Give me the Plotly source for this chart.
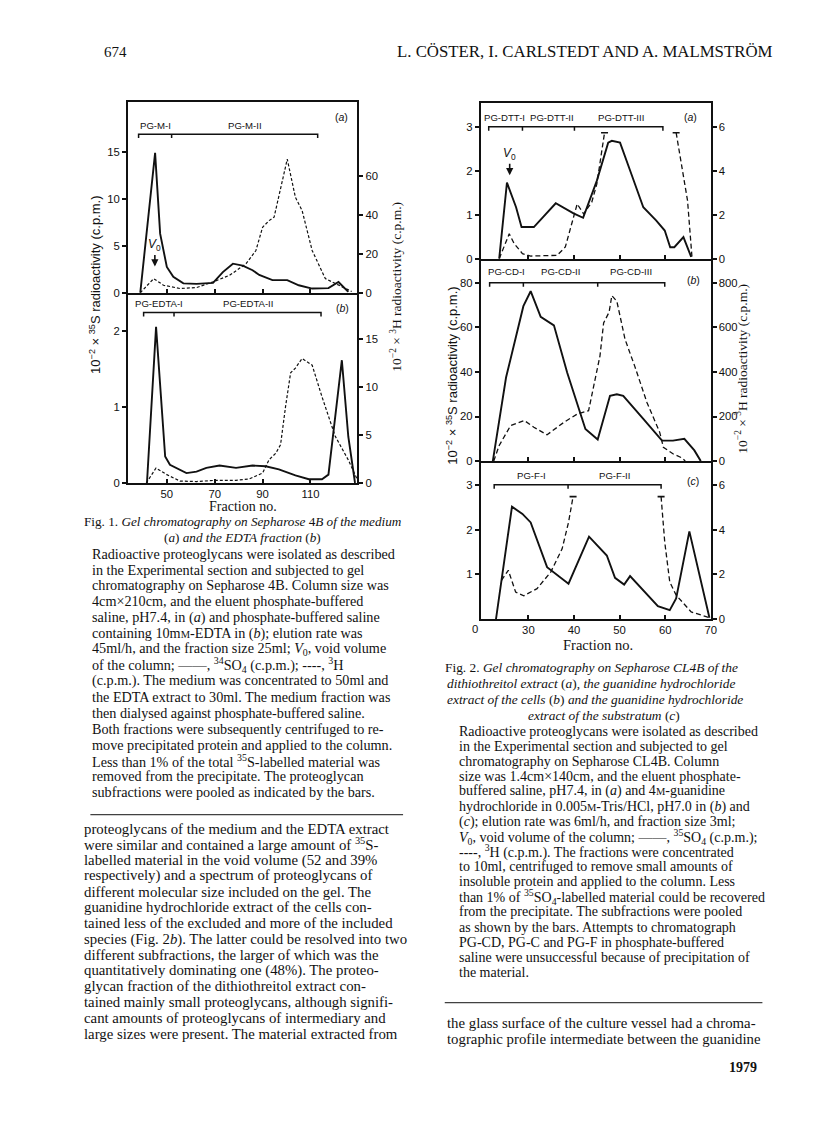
import plotly.graph_objects as go

# ---------------- data ----------------
# Fig. 1(a)  medium
F1A_FRAC_35S = [38.9, 45.1, 47.2, 50.0, 52.7, 56.9, 62.4, 69.3, 73.4, 77.6, 81.7, 85.8, 88.6, 94.1, 100.3, 105.1, 110.7, 117.5, 121.7, 125.8]
F1A_35S = [0, 14.9, 6.3, 2.75, 1.7, 1.0, 0.95, 1.05, 2.2, 3.1, 2.9, 2.4, 1.9, 1.35, 1.35, 0.8, 0.45, 0.5, 1.15, 0.1]
F1A_FRAC_3H = [38.9, 44.5, 48.6, 55.5, 62.4, 69.3, 76.2, 83.1, 87.2, 90.0, 92.7, 94.8, 100.3, 103.7, 106.5, 110.7, 116.2, 123.1, 127.2]
F1A_3H = [0, 7.3, 3.9, 2.2, 2.7, 5.6, 9.0, 15, 21.8, 33.8, 37.2, 39, 68.9, 49.2, 42.4, 21.8, 7.3, 3.1, 0.7]
# Fig. 1(b)  EDTA fraction
F1B_FRAC_35S = [41.7, 45.5, 49.3, 51.3, 58.2, 62.4, 66.5, 68.6, 72.0, 78.9, 85.8, 91.3, 96.8, 103.7, 109.3, 114.8, 117.5, 123.1, 125.8, 128.6]
F1B_35S = [0, 2.06, 0.35, 0.24, 0.13, 0.15, 0.2, 0.21, 0.23, 0.2, 0.23, 0.22, 0.18, 0.1, 0.05, 0.05, 0.11, 1.62, 0.61, 0]
F1B_FRAC_3H = [41.4, 45.5, 50, 55.5, 62.4, 70.6, 78.9, 84.4, 90, 92.7, 95.5, 97.5, 99.6, 101.7, 103.7, 106.5, 110.7, 114.8, 120.3, 125.8, 129.3]
F1B_3H = [0, 1.56, 0.87, 0.2, 0.15, 0.28, 0.28, 0.42, 1.04, 2.43, 3.1, 4.0, 8.0, 11.5, 12.0, 13.0, 12.3, 9.0, 4.9, 2.4, 0.5]
# Fig. 2(a)  dithiothreitol extract
F2A_FRAC_35S = [23.6, 25.3, 27.3, 28.5, 31.2, 36.0, 39.9, 42.0, 45.0, 47.5, 48.3, 50.1, 52.6, 55.2, 58.0, 59.9, 61.1, 62.0, 64.0, 65.7]
F2A_35S = [0, 1.73, 1.17, 0.72, 0.72, 1.26, 1.03, 0.93, 1.77, 2.64, 2.68, 2.64, 1.92, 1.17, 0.87, 0.64, 0.26, 0.26, 0.49, 0.04]
F2A_FRAC_3H = [23.6, 25.8, 26.9, 28.7, 30.5, 33.4, 36.3, 38.1, 39.6, 40.7, 42.1, 43.9, 45.0, 46.7, None, 62.4, 64.9, 65.9]
F2A_3H = [0, 1.13, 0.68, 0.23, 0.12, 0.12, 0.15, 0.53, 1.73, 2.49, 2.04, 2.57, 3.39, 5.73, None, 5.73, 2.64, 0]
# Fig. 2(b)  guanidine extract of cells
F2B_FRAC_35S = [22.2, 25.1, 28.9, 30.5, 32.7, 35.6, 38.5, 42.5, 45.2, 47.9, 49.4, 50.8, 55.2, 59.3, 61.7, 64.2, 66.4, 67.8]
F2B_35S = [0, 37.5, 69.5, 76.2, 64.7, 60.9, 39.7, 14.4, 9.7, 29.3, 30, 29.3, 18.9, 9.2, 9.2, 10, 4.8, 0]
F2B_FRAC_3H = [22.4, 23.6, 26.1, 29.1, 31.2, 34.1, 37.8, 40.7, 43.2, 45.7, 46.5, 47.7, 48.3, 49.4, 51.2, 53.3, 56.0, 58.8, 59.6, 61.7, 63.8, 64.4]
F2B_3H = [0, 70, 159, 182, 152, 118, 174, 211, 226, 472, 620, 668, 742, 717, 546, 427, 263, 129, 62, 33, 13, 0]
# Fig. 2(c)  guanidine extract of substratum
F2C_FRAC_35S = [22.9, 26.4, 28.7, 30.5, 34.1, 38.8, 43.3, 47.2, 49.0, 51.0, 52.3, 54.1, 58.4, 61.0, 62.4, 65.3, 69.7]
F2C_35S = [0, 2.51, 2.35, 2.16, 1.16, 0.79, 1.84, 1.42, 0.92, 0.77, 0.96, 0.76, 0.29, 0.2, 0.46, 1.96, 0.03]
F2C_FRAC_3H = [24.1, 25.6, 27.2, 29.0, 31.9, 34.9, 37.4, 38.8, 39.8, None, 59.1, 59.9, 61.0, 62.4, 65.7, 69.7]
F2C_3H = [1.73, 2.18, 1.21, 1.04, 1.36, 2.1, 3.14, 4.32, 5.47, None, 5.47, 3.44, 1.66, 1.07, 0.32, 0.06]

# pooled subfractions (fraction boundaries), bar level and names
F1A_POOL = [38.2, 52, 113];            F1A_POOL_LEVEL = 16.9; F1A_POOL_NAMES = ["PG-M-I", "PG-M-II"]
F1B_POOL = [40.3, 53, 114.4];          F1B_POOL_LEVEL = 2.25; F1B_POOL_NAMES = ["PG-EDTA-I", "PG-EDTA-II"]
F2A_POOL = [21.3, 28.7, 40.1, 59.5];   F2A_POOL_LEVEL = 3.0;  F2A_POOL_NAMES = ["PG-DTT-I", "PG-DTT-II", "PG-DTT-III"]
F2B_POOL = [21.5, 28.9, 45.2, 59.9];   F2B_POOL_LEVEL = 80;   F2B_POOL_NAMES = ["PG-CD-I", "PG-CD-II", "PG-CD-III"]
F2C_POOL = [22.5, 38.7, 59.1];         F2C_POOL_LEVEL = 3.0;  F2C_POOL_NAMES = ["PG-F-I", "PG-F-II"]

# void volume markers (fraction, left-axis value at arrow tip)
F1A_V0 = (45.0, 2.8)
F2A_V0 = (25.9, 1.9)

# tick labels
F1_XTICKS = [50, 70, 90, 110, 130]
F1A_LTICKS = [0, 5, 10, 15]; F1A_RTICKS = [0, 20, 40, 60]
F1B_LTICKS = [0, 1, 2];      F1B_RTICKS = [0, 5, 10, 15]
F2_XTICKS = [30, 40, 50, 60, 70]
F2A_LTICKS = [0, 1, 2, 3];   F2A_RTICKS = [0, 2, 4, 6]
F2B_LTICKS = [0, 20, 40, 60, 80]; F2B_RTICKS = [0, 200, 400, 600, 800]
F2C_LTICKS = [1, 2, 3];      F2C_RTICKS = [0, 2, 4, 6]

# page text
HEADER = "L. CÖSTER, I. CARLSTEDT AND A. MALMSTRÖM"
PAGE_NO = "674"
PAGE_FOOT = "1979"
SMALLM = "<span style='font-size:10.5px'>M</span>"
FIG1_HEAD = ["Fig. 1. <i>Gel chromatography on Sepharose</i> 4<i>B of the medium</i>",
             "(<i>a</i>) <i>and the EDTA fraction</i> (<i>b</i>)"]
FIG1_CAP = [
    "Radioactive proteoglycans were isolated as described",
    "in the Experimental section and subjected to gel",
    "chromatography on Sepharose 4B. Column size was",
    "4cm×210cm, and the eluent phosphate-buffered",
    "saline, pH7.4, in (<i>a</i>) and phosphate-buffered saline",
    "containing 10m" + SMALLM + "-EDTA in (<i>b</i>); elution rate was",
    "45ml/h, and the fraction size 25ml; <i>V</i><sub>0</sub>, void volume",
    "of the column; ——, <sup>34</sup>SO<sub>4</sub> (c.p.m.); ----, <sup>3</sup>H",
    "(c.p.m.). The medium was concentrated to 50ml and",
    "the EDTA extract to 30ml. The medium fraction was",
    "then dialysed against phosphate-buffered saline.",
    "Both fractions were subsequently centrifuged to re-",
    "move precipitated protein and applied to the column.",
    "Less than 1% of the total <sup>35</sup>S-labelled material was",
    "removed from the precipitate. The proteoglycan",
    "subfractions were pooled as indicated by the bars.",
]
LEFT_BODY = [
    "proteoglycans of the medium and the EDTA extract",
    "were similar and contained a large amount of <sup>35</sup>S-",
    "labelled material in the void volume (52 and 39%",
    "respectively) and a spectrum of proteoglycans of",
    "different molecular size included on the gel. The",
    "guanidine hydrochloride extract of the cells con-",
    "tained less of the excluded and more of the included",
    "species (Fig. 2<i>b</i>). The latter could be resolved into two",
    "different subfractions, the larger of which was the",
    "quantitatively dominating one (48%). The proteo-",
    "glycan fraction of the dithiothreitol extract con-",
    "tained mainly small proteoglycans, although signifi-",
    "cant amounts of proteoglycans of intermediary and",
    "large sizes were present. The material extracted from",
]
FIG2_HEAD = [
    "Fig. 2. <i>Gel chromatography on Sepharose CL4B of the</i>",
    "<i>dithiothreitol extract</i> (<i>a</i>), <i>the guanidine hydrochloride</i>",
    "<i>extract of the cells</i> (<i>b</i>) <i>and the guanidine hydrochloride</i>",
    "<i>extract of the substratum</i> (<i>c</i>)",
]
FIG2_CAP = [
    "Radioactive proteoglycans were isolated as described",
    "in the Experimental section and subjected to gel",
    "chromatography on Sepharose CL4B. Column",
    "size was 1.4cm×140cm, and the eluent phosphate-",
    "buffered saline, pH7.4, in (<i>a</i>) and 4" + SMALLM + "-guanidine",
    "hydrochloride in 0.005" + SMALLM + "-Tris/HCl, pH7.0 in (<i>b</i>) and",
    "(<i>c</i>); elution rate was 6ml/h, and fraction size 3ml;",
    "<i>V</i><sub>0</sub>, void volume of the column; ——, <sup>35</sup>SO<sub>4</sub> (c.p.m.);",
    "----, <sup>3</sup>H (c.p.m.). The fractions were concentrated",
    "to 10ml, centrifuged to remove small amounts of",
    "insoluble protein and applied to the column. Less",
    "than 1% of <sup>35</sup>SO<sub>4</sub>-labelled material could be recovered",
    "from the precipitate. The subfractions were pooled",
    "as shown by the bars. Attempts to chromatograph",
    "PG-CD, PG-C and PG-F in phosphate-buffered",
    "saline were unsuccessful because of precipitation of",
    "the material.",
]
RIGHT_BODY = [
    "the glass surface of the culture vessel had a chroma-",
    "tographic profile intermediate between the guanidine",
]
Y_TITLE_35S = "10<sup>−2</sup> × <sup>35</sup>S radioactivity (c.p.m.)"
Y_TITLE_3H = "10<sup>−2</sup> × <sup>3</sup>H radioactivity (c.p.m.)"

# ---------------- layout helpers ----------------
W, H = 816, 1136
def PX(x): return x / W
def PY(y): return 1 - y / H

SERIF = "Liberation Serif"
SANS = "Liberation Sans"
INK = "#111111"
AXW = 1.5
DY = -3.0  # vertical adjustment of both figure blocks

# panel geometry (pixels)
F1_L, F1_R = 120.7, 352.0
F1A_T, F1A_B = 98.0 + DY, 289.3 + DY
F1B_T, F1B_B = 289.3 + DY, 480.5 + DY
F2_L, F2_R = 476.0, 708.0
F2A_T, F2A_B = 99.0 + DY, 255.0 + DY
F2B_T, F2B_B = 255.0 + DY, 458.5 + DY
F2C_T, F2C_B = 458.5 + DY, 617.3 + DY

F1_XR = [33.7, 129.6]
F2_XR = [19.5, 70.0]
F1A_LR, F1A_RR = [0, 20.27], [0, 98.1]
F1B_LR, F1B_RR = [0, 2.51], [0, 19.86]
F2A_LR, F2A_RR = [0, 3.53], [0, 7.06]
F2B_LR, F2B_RR = [0, 90.8], [0, 908]
F2C_LR, F2C_RR = [0, 3.53], [0, 7.06]

tickfont = dict(family=SANS, size=11.3, color=INK)

def xaxis(domain, rng, anchor, tickvals, labels, mirror, matches=None):
    d = dict(domain=domain, range=rng, anchor=anchor, tickvals=tickvals,
             ticks="inside", ticklen=4, tickwidth=AXW, tickcolor=INK,
             showline=True, linecolor=INK, linewidth=AXW, mirror=mirror,
             showgrid=False, zeroline=False, showticklabels=labels,
             tickfont=tickfont, fixedrange=True)
    if matches:
        d["matches"] = matches
    return d

def yaxis(domain, rng, anchor, tickvals, side, overlaying=None):
    d = dict(range=rng, anchor=anchor, tickvals=tickvals, side=side,
             ticks="outside", ticklen=4, tickwidth=AXW, tickcolor=INK,
             showline=True, linecolor=INK, linewidth=AXW,
             showgrid=False, zeroline=False, tickfont=tickfont, fixedrange=True)
    if overlaying:
        d["overlaying"] = overlaying
    else:
        d["domain"] = domain
    return d

fig = go.Figure()

def curve(x, y, xa, ya, dash=None, width=1.9):
    fig.add_trace(go.Scatter(x=x, y=y, xaxis=xa, yaxis=ya, mode="lines",
                             line=dict(color=INK, width=width, dash=dash or "solid"),
                             connectgaps=False, hoverinfo="skip"))

def offscale_marks(x, y, xa, ya):
    xs, ys = [], []
    for i, v in enumerate(y):
        if v is None:
            xs += [x[i - 1], x[i + 1]]
            ys += [y[i - 1], y[i + 1]]
    fig.add_trace(go.Scatter(x=xs, y=ys, xaxis=xa, yaxis=ya, mode="markers",
                             marker=dict(symbol="line-ew", size=5, line=dict(color=INK, width=1.6)),
                             hoverinfo="skip"))

annotations = []

def pool_bar(pools, level, names, xa, ya, rng, top, bottom, shift, xshifts=None):
    drop = 4.0 * (rng[1] - rng[0]) / (bottom - top)
    xs, ys = [pools[0], pools[0], pools[-1], pools[-1], None], [level - drop, level, level, level - drop, None]
    for p in pools[1:-1]:
        xs += [p, p, None]
        ys += [level, level - drop, None]
    fig.add_trace(go.Scatter(x=xs, y=ys, xaxis=xa, yaxis=ya, mode="lines",
                             line=dict(color=INK, width=1.5), hoverinfo="skip"))
    for i, nm in enumerate(names):
        annotations.append(dict(text=nm, x=(pools[i] + pools[i + 1]) / 2, y=level,
                                xref=xa, yref=ya, yshift=shift,
                                xshift=(xshifts[i] if xshifts else 0), showarrow=False,
                                font=dict(family=SANS, size=9.6, color=INK),
                                xanchor="center", yanchor="middle"))

# ---------------- Fig. 1 ----------------
curve(F1A_FRAC_35S, F1A_35S, "x2", "y3")
curve(F1A_FRAC_3H, F1A_3H, "x2", "y4", dash="3px,2px", width=1.2)
curve(F1B_FRAC_35S, F1B_35S, "x", "y")
curve(F1B_FRAC_3H, F1B_3H, "x", "y2", dash="3px,2px", width=1.2)
pool_bar(F1A_POOL, F1A_POOL_LEVEL, F1A_POOL_NAMES, "x2", "y3", F1A_LR, F1A_T, F1A_B, 9)
pool_bar(F1B_POOL, F1B_POOL_LEVEL, F1B_POOL_NAMES, "x", "y", F1B_LR, F1B_T, F1B_B, 9)

# ---------------- Fig. 2 ----------------
curve(F2A_FRAC_35S, F2A_35S, "x5", "y9")
curve(F2A_FRAC_3H, F2A_3H, "x5", "y10", dash="5px,3px", width=1.3)
offscale_marks(F2A_FRAC_3H, F2A_3H, "x5", "y10")
curve(F2B_FRAC_35S, F2B_35S, "x4", "y7")
curve(F2B_FRAC_3H, F2B_3H, "x4", "y8", dash="5px,3px", width=1.3)
curve(F2C_FRAC_35S, F2C_35S, "x3", "y5")
curve(F2C_FRAC_3H, F2C_3H, "x3", "y6", dash="5px,3px", width=1.3)
offscale_marks(F2C_FRAC_3H, F2C_3H, "x3", "y6")
pool_bar(F2A_POOL, F2A_POOL_LEVEL, F2A_POOL_NAMES, "x5", "y9", F2A_LR, F2A_T, F2A_B, 9, xshifts=[-1, 4, 2])
pool_bar(F2B_POOL, F2B_POOL_LEVEL, F2B_POOL_NAMES, "x4", "y7", F2B_LR, F2B_T, F2B_B, 11)
pool_bar(F2C_POOL, F2C_POOL_LEVEL, F2C_POOL_NAMES, "x3", "y5", F2C_LR, F2C_T, F2C_B, 9)

# V0 arrows
for (vx, vy), xa, ya in [(F1A_V0, "x2", "y3"), (F2A_V0, "x5", "y9")]:
    annotations.append(dict(x=vx, y=vy, xref=xa, yref=ya, text="", showarrow=True,
                            ax=0, ay=-13, arrowhead=2, arrowsize=0.9, arrowwidth=1.6, arrowcolor=INK))
    annotations.append(dict(x=vx, y=vy, xref=xa, yref=ya, text="<i>V</i><sub>0</sub>", showarrow=False,
                            yshift=21, xanchor="center", yanchor="middle",
                            font=dict(family=SANS, size=12, color=INK)))

def txt(text, x, y, size=14.2, family=SERIF, xanchor="left", angle=0, color=INK):
    annotations.append(dict(text=text, x=PX(x), y=PY(y), xref="paper", yref="paper",
                            showarrow=False, xanchor=xanchor, yanchor="middle", textangle=angle,
                            font=dict(family=family, size=size, color=color)))

# panel letters
txt("(<i>a</i>)", 336, 113 + DY, size=10.5, family=SANS, xanchor="center")
txt("(<i>b</i>)", 337, 305 + DY, size=10.5, family=SANS, xanchor="center")
txt("(<i>a</i>)", 688, 113 + DY, size=10.5, family=SANS, xanchor="center")
txt("(<i>b</i>)", 691, 276 + DY, size=10.5, family=SANS, xanchor="center")
txt("(<i>c</i>)", 690, 479 + DY, size=10.5, family=SANS, xanchor="center")
txt("0", 470, 627 + DY, size=11.3, family=SANS, xanchor="center")

# axis titles
txt(Y_TITLE_35S, 87, 281 + DY, size=13, family=SANS, xanchor="center", angle=-90)
txt(Y_TITLE_3H, 391, 283 + DY, size=13.5, family=SERIF, xanchor="center", angle=-90)
txt(Y_TITLE_35S, 447, 373 + DY, size=13, family=SANS, xanchor="center", angle=-90)
txt(Y_TITLE_3H, 739, 366 + DY, size=13.5, family=SERIF, xanchor="center", angle=-90)
txt("Fraction no.", 237, 501, size=14, xanchor="center")
txt("Fraction no.", 594, 640, size=14.5, xanchor="center")

# page header / footer
txt(PAGE_NO, 95, 44, size=15)
txt(HEADER, 773, 44, size=16.8, xanchor="right")
txt("<b>" + PAGE_FOOT + "</b>", 757, 1065, size=14, xanchor="right")

# captions
txt(FIG1_HEAD[0], 75, 516, size=13.2)
txt(FIG1_HEAD[1], 236, 532.5, size=13.2, xanchor="center")
for i, line in enumerate(FIG1_CAP):
    txt(line, 82.7, 548.5 + 16.0 * i, size=14.2)
for i, line in enumerate(FIG2_HEAD):
    if i < 3:
        txt(line, 438.5 if i == 0 else 440, 663 + 16.0 * i, size=13.4)
    else:
        txt(line, 600, 663 + 16.0 * i, size=13.4, xanchor="center")
for i, line in enumerate(FIG2_CAP):
    txt(line, 452.3, 727 + 15.15 * i, size=14.0)

# body text
for i, line in enumerate(LEFT_BODY):
    txt(line, 75, 825 + 15.85 * i, size=14.8)
for i, line in enumerate(RIGHT_BODY):
    txt(line, 440, 1020 + 16 * i, size=14.8)

# column rules
shapes = [
    dict(type="line", xref="paper", yref="paper", x0=PX(83), x1=PX(398), y0=PY(811), y1=PY(811),
         line=dict(color=INK, width=1)),
    dict(type="line", xref="paper", yref="paper", x0=PX(440), x1=PX(760), y0=PY(1000), y1=PY(1000),
         line=dict(color=INK, width=1)),
]

fig.update_layout(
    width=W, height=H, margin=dict(l=0, r=0, t=0, b=0),
    paper_bgcolor="white", plot_bgcolor="rgba(0,0,0,0)", showlegend=False,
    annotations=annotations, shapes=shapes,
    # Fig. 1
    xaxis=xaxis([PX(F1_L), PX(F1_R)], F1_XR, "y", F1_XTICKS, True, False),
    xaxis2=xaxis([PX(F1_L), PX(F1_R)], F1_XR, "y3", F1_XTICKS, False, True, matches="x"),
    yaxis=yaxis([PY(F1B_B), PY(F1B_T)], F1B_LR, "x", F1B_LTICKS, "left"),
    yaxis2=yaxis(None, F1B_RR, "x", F1B_RTICKS, "right", overlaying="y"),
    yaxis3=yaxis([PY(F1A_B), PY(F1A_T)], F1A_LR, "x2", F1A_LTICKS, "left"),
    yaxis4=yaxis(None, F1A_RR, "x2", F1A_RTICKS, "right", overlaying="y3"),
    # Fig. 2
    xaxis3=xaxis([PX(F2_L), PX(F2_R)], F2_XR, "y5", F2_XTICKS, True, False),
    xaxis4=xaxis([PX(F2_L), PX(F2_R)], F2_XR, "y7", F2_XTICKS, False, False, matches="x3"),
    xaxis5=xaxis([PX(F2_L), PX(F2_R)], F2_XR, "y9", F2_XTICKS, False, True, matches="x3"),
    yaxis5=yaxis([PY(F2C_B), PY(F2C_T)], F2C_LR, "x3", F2C_LTICKS, "left"),
    yaxis6=yaxis(None, F2C_RR, "x3", F2C_RTICKS, "right", overlaying="y5"),
    yaxis7=yaxis([PY(F2B_B), PY(F2B_T)], F2B_LR, "x4", F2B_LTICKS, "left"),
    yaxis8=yaxis(None, F2B_RR, "x4", F2B_RTICKS, "right", overlaying="y7"),
    yaxis9=yaxis([PY(F2A_B), PY(F2A_T)], F2A_LR, "x5", F2A_LTICKS, "left"),
    yaxis10=yaxis(None, F2A_RR, "x5", F2A_RTICKS, "right", overlaying="y9"),
)

fig.write_html("out.html")
